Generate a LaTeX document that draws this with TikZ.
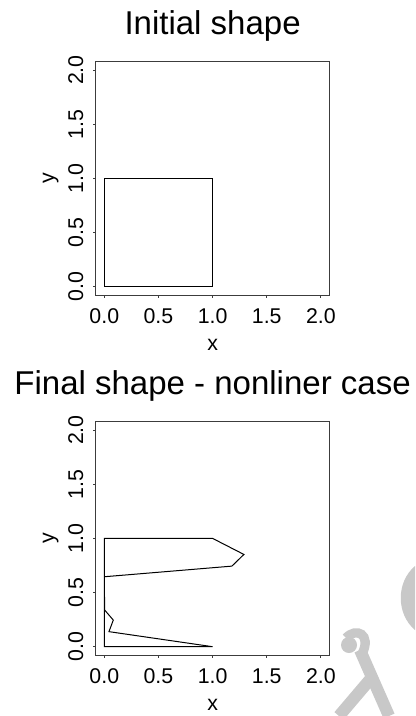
\documentclass[tikz,border=0pt]{standalone}
\usepackage{fontspec}
\setmainfont{Liberation Sans}
\definecolor{wmgray}{RGB}{200,200,200}
\definecolor{framecol}{RGB}{60,60,60}
\tikzset{
  plotframe/.style={draw=framecol, line width=0.9pt},
  tickmark/.style={draw=framecol, line width=0.75pt},
  ticklab/.style={font=\fontsize{16}{19}\selectfont, inner sep=0pt},
  axislab/.style={font=\fontsize{16}{19}\selectfont, inner sep=0pt},
  plottitle/.style={font=\fontsize{24.75}{29}\selectfont, inner sep=0pt, anchor=base},
  shapeline/.style={draw=black, line width=0.75pt, line join=miter},
  wm/.style={wmgray}
}
\begin{document}
\begin{tikzpicture}[x=0.75pt,y=-0.75pt]
\useasboundingbox (0,0) rectangle (415,716);
\fill[white] (0,0) rectangle (415,716);
% watermark
\begin{scope}
\clip (0,0) rectangle (415,716);
\fill[wm] (415,566) .. controls (396,582) and (396,614) .. (415,630) -- cycle;
\fill[wm] (349,645) circle (8);
\draw[wm, line width=7pt] (346,638) .. controls (356,627) and (372,634) .. (362,654);
\draw[wm, line width=9pt] (360,650) -- (389,716);
\draw[wm, line width=9pt] (373,676) -- (339,716);
\end{scope}
% panels
\foreach \off/\nm/\ttl in {0/a/Initial shape, 360/b/Final shape - nonliner case}{
\begin{scope}[shift={(104.3,286.7+\off)}, x=81.225pt, y=81.225pt]
  \draw[plotframe] (-0.08,-0.08) rectangle (2.08,2.08);
  \foreach \v/\l in {0/0.0, 0.5/0.5, 1/1.0, 1.5/1.5, 2/2.0}{
    \draw[tickmark] (\v,-0.08) -- +(0pt,-2.3pt);
    \draw[tickmark] (-0.08,\v) -- +(-2.3pt,0pt);
    \node[ticklab, anchor=base] (\nm x\l) at ([yshift=-20.9pt]\v,-0.08) {\l};
    \node[ticklab, anchor=base, rotate=90] (\nm y\l) at ([xshift=-9.4pt]-0.08,\v) {\l};
  }
  \node[axislab, anchor=base] (\nm xlab) at ([yshift=-41pt]1,-0.08) {x};
  \node[axislab, anchor=base, rotate=90] (\nm ylab) at ([xshift=-31.2pt]-0.08,1) {y};
  \node[plottitle] (\nm title) at ([yshift=20.3pt]1,2.08) {\ttl};
\end{scope}
}
\begin{scope}[shift={(104.3,286.7)}, x=81.225pt, y=81.225pt]
  \draw[shapeline] (0,0) -- (1,0) -- (1,1) -- (0,1) -- cycle;
\end{scope}
\begin{scope}[shift={(104.3,646.7)}, x=81.225pt, y=81.225pt]
  \draw[shapeline] (0,1) -- (1,1) -- (1.289,0.852) -- (1.178,0.744) -- (0,0.646)
    -- (0.003,0.339) -- (0.083,0.246) -- (0.043,0.139) -- (1,0) -- (0,0) -- cycle;
\end{scope}
\end{tikzpicture}
\end{document}
